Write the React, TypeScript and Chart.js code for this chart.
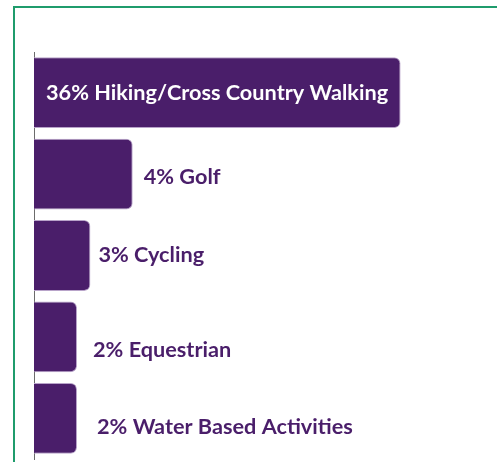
import React, { useEffect, useRef } from "react";
import { Chart, registerables } from "chart.js";

Chart.register(...registerables);

const categories = [
  "Hiking/Cross Country Walking",
  "Golf",
  "Cycling",
  "Equestrian",
  "Water Based Activities",
];
const percentLabels = ["36%", "4%", "3%", "2%", "2%"];
const barLengths = [26, 7, 4, 3.05, 3.05];
const xTicks = [0, 10, 20, 30];

const PURPLE = "#4a1e6a";
const FONT = "bold 21.7px Lato, 'Open Sans', sans-serif";

const labelPlugin = {
  id: "barLabels",
  afterDatasetsDraw(chart: any, _args: any, opts: any) {
    const ctx = chart.ctx;
    const meta = chart.getDatasetMeta(0);
    const nudgeX: number[] = opts.nudgeX || [];
    const nudgeY: number[] = opts.nudgeY || [];
    const areaW = chart.chartArea.right - chart.chartArea.left;
    ctx.save();
    ctx.font = FONT;
    ctx.textBaseline = "middle";
    meta.data.forEach((el: any, i: number) => {
      const text = `${percentLabels[i]} ${categories[i]}`;
      const w = ctx.measureText(text).width;
      const barW = el.x - el.base;
      if (barW > areaW * 0.5 && w + 24 < barW) {
        ctx.fillStyle = "#ffffff";
        ctx.fillText(text, el.base + 12, el.y);
      } else {
        ctx.fillStyle = PURPLE;
        ctx.fillText(text, el.x + (nudgeX[i] ?? 10), el.y + (nudgeY[i] ?? 0));
      }
    });
    ctx.restore();
  },
};

export default function App() {
  const ref = useRef<HTMLCanvasElement>(null);
  useEffect(() => {
    document.body.style.margin = "0";
    document.body.style.overflow = "hidden";
    const chart = new Chart(ref.current!, {
      type: "bar",
      data: {
        labels: categories,
        datasets: [
          {
            data: barLengths,
            backgroundColor: PURPLE,
            borderColor: "#b8a3c9",
            borderWidth: 1,
            borderSkipped: "start",
            borderRadius: { topLeft: 0, bottomLeft: 0, topRight: 6, bottomRight: 6 },
            categoryPercentage: 0.87,
            barPercentage: 1,
          },
        ],
      },
      options: {
        indexAxis: "y",
        animation: false,
        responsive: false,
        maintainAspectRatio: false,
        layout: { padding: { left: 34, top: 52, right: 40, bottom: 3 } },
        plugins: {
          legend: { display: false },
          tooltip: { enabled: false },
          barLabels: { nudgeX: [12, 11, 8, 16, 20], nudgeY: [0, 3, 0, 13, 9] },
        } as any,
        scales: {
          x: {
            display: false,
            min: xTicks[0],
            max: xTicks[xTicks.length - 1],
            ticks: { stepSize: 10 },
            grid: { display: false },
          },
          y: {
            display: true,
            ticks: { display: false },
            grid: { display: false, drawTicks: false },
            border: { display: true, color: "#6b6b6b", width: 1 },
          },
        },
      },
      plugins: [labelPlugin],
    });
    return () => chart.destroy();
  }, []);

  return (
    <div style={{ position: "relative", width: 497, height: 462, overflow: "hidden", background: "#fff" }}>
      <div
        style={{
          position: "absolute",
          left: 13,
          top: 6,
          width: 700,
          height: 700,
          borderLeft: "2px solid #1f9c6c",
          borderTop: "2px solid #1f9c6c",
        }}
      />
      <canvas ref={ref} width={497} height={462} style={{ position: "absolute", left: 0, top: 0 }} />
    </div>
  );
}
